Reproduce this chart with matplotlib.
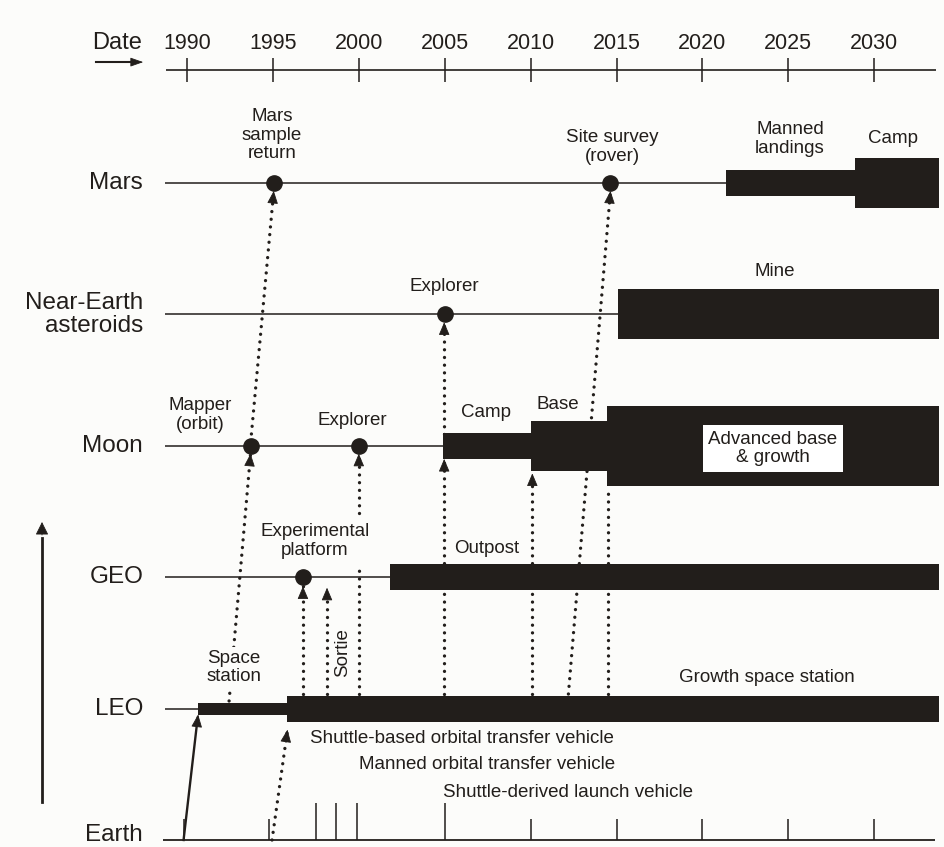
import matplotlib
matplotlib.use('Agg')
import matplotlib.pyplot as plt
import numpy as np

plt.rcParams['font.family'] = ['Liberation Sans', 'DejaVu Sans']

ink = '#221e1b'
paper = '#fcfcfa'

# timeline axis
years = [1990, 1995, 2000, 2005, 2010, 2015, 2020, 2025, 2030]
rows = ['Earth', 'LEO', 'GEO', 'Moon', 'Near-Earth\nasteroids', 'Mars']

# program phases drawn as bars (row index, start year, end year, size class)
phase_labels = ['Manned\nlandings', 'Camp', 'Mine', 'Camp', 'Base',
                'Advanced base\n& growth', 'Outpost', 'Space\nstation',
                'Growth space station']
phase_row = [5, 5, 4, 3, 3, 3, 2, 1, 1]
phase_start = [2021.4, 2028.9, 2015.1, 2004.9, 2010.0, 2014.45, 2001.8, 1990.65, 1995.8]
phase_end = [2028.9, 2033.8, 2033.8, 2010.0, 2014.45, 2033.8, 2033.8, 1995.8, 2033.8]
phase_size = [1, 2, 2, 1, 2, 3, 1, 0, 1]

# single missions drawn as dots
mission_labels = ['Mars\nsample\nreturn', 'Site survey\n(rover)', 'Explorer',
                  'Mapper\n(orbit)', 'Explorer', 'Experimental\nplatform']
mission_row = [5, 5, 4, 3, 3, 2]
mission_year = [1995.05, 2014.65, 2005.0, 1993.7, 2000.0, 1996.75]

# dotted links between rows (from year/row to year/row, arrow head or not)
link_x0 = [1992.45, 1993.75, 2000.0, 2000.0, 1996.75, 1998.15, 2004.97, 2004.97, 2010.1, 2012.2, 2014.5, 1994.95]
link_r0 = [1.058, 3.09, 1.111, 2.49, 1.111, 1.111, 1.111, 3.09, 1.111, 1.111, 1.111, 0.0]
link_x1 = [1993.7, 1995.05, 2000.0, 2000.0, 1996.75, 1998.15, 2004.97, 2004.97, 2010.1, 2014.65, 2014.5, 1995.85]
link_r1 = [2.94, 4.94, 2.07, 2.94, 1.93, 1.92, 2.90, 3.94, 2.79, 4.94, 2.69, 0.84]
link_head = [True, True, False, True, True, True, True, True, True, True, False, True]

# launch events on the Earth line
earth_tick_year = [1989.8, 1994.8, 1997.5, 1998.7, 1999.9, 2005.0, 2010.0, 2015.0, 2020.0, 2025.0, 2030.0]
earth_tick_tall = [False, False, True, True, True, True, False, False, False, False, False]

vehicles = ['Shuttle-based orbital transfer vehicle',
            'Manned orbital transfer vehicle',
            'Shuttle-derived launch vehicle']
vehicle_year = [1997.15, 2000.0, 2004.9]
vehicle_row = [0.776, 0.571, 0.365]

px_per_year = 17.18
px_per_row = 131.4

fig = plt.figure(figsize=(9.45, 8.47), dpi=100, facecolor=paper)
ax = fig.add_axes([0, 0, 1, 1])
ax.set_xlim(1990 - 187 / px_per_year, 1990 + 758 / px_per_year)
ax.set_ylim(-7 / px_per_row, 840 / px_per_row)
ax.axis('off')


def head(x0, y0, x1, y1, size=10, width=0.34):
    p0 = ax.transData.transform((x0, y0))
    p1 = ax.transData.transform((x1, y1))
    d = (p1 - p0) / np.hypot(*(p1 - p0))
    back = ax.transData.inverted().transform(p1 - d * size)
    ax.annotate('', xy=(x1, y1), xytext=back, zorder=4,
                arrowprops=dict(arrowstyle=f'-|>,head_length=0.8,head_width={width}',
                                mutation_scale=10, color=ink, lw=0.6,
                                shrinkA=0, shrinkB=0))


# date scale
date_row = 5.86
ax.hlines(date_row, 1988.75, 2033.6, color=ink, lw=1.2)
ax.vlines(years, date_row - 0.09, date_row + 0.09, color=ink, lw=1.1)
for y in years:
    ax.text(y, 6.065, str(y), ha='center', va='center', fontsize=15.5, color=ink)
ax.text(1985.93, 6.065, 'Date', ha='center', va='center', fontsize=17, color=ink)
ax.plot([1984.7, 1987.0], [5.92, 5.92], color=ink, lw=1.5)
head(1984.7, 5.92, 1987.45, 5.92, size=9, width=0.28)

# row lines and labels
for i, name in enumerate(rows):
    r = 0.035 if i == 0 else i
    ax.text(1987.45, r, name, ha='right', va='center', fontsize=17.5,
            color=ink, linespacing=1.1)
    if i > 0:
        ax.hlines(i, 1988.7, 2033.5, color=ink, lw=1.1, zorder=1)
ax.hlines(0, 1988.6, 2033.55, color=ink, lw=1.3)

# bars
thick_px = [12, 26, 50, 80]
heights = [thick_px[s] / px_per_row for s in phase_size]
ax.barh(phase_row, np.array(phase_end) - np.array(phase_start), left=phase_start,
        height=heights, color=ink, edgecolor='none', zorder=3)

# dotted links
for x0, r0, x1, r1, h in zip(link_x0, link_r0, link_x1, link_r1, link_head):
    ax.plot([x0, x1], [r0, r1], color=ink, lw=2.4, linestyle=(0, (0.01, 2.3)),
            dash_capstyle='round', zorder=2)
    if h:
        head(x0, r0, x1, r1)

# direct launch to LEO
ax.plot([1989.8, 1990.62], [0.0, 0.93], color=ink, lw=1.7, zorder=2)
head(1989.8, 0.0, 1990.65, 0.955)

# milestone dots
ax.plot(mission_year, mission_row, 'o', color=ink, ms=11, zorder=5)

# earth ticks
tick_h = [0.28 if t else 0.16 for t in earth_tick_tall]
ax.vlines(earth_tick_year, 0, tick_h, color=ink, lw=1.1)

# vertical arrow at left
ax.plot([1981.56, 1981.56], [0.289, 2.3], color=ink, lw=2.0)
head(1981.56, 0.289, 1981.56, 2.42, size=13, width=0.4)

# text labels
fs = 13.5
label_pos = [(1994.95, 5.365), (2014.74, 5.274), (2004.96, 4.21),
             (1990.76, 3.234), (1999.6, 3.196), (1997.45, 2.275)]
for name, (x, r) in zip(mission_labels, label_pos):
    ax.text(x, r, name, ha='center', va='center', fontsize=fs, color=ink,
            linespacing=1.12, zorder=6)

phase_pos = [(2025.1, 5.335), (2031.1, 5.342), (2024.2, 4.33), (2007.4, 3.25),
             (2011.6, 3.318), (2024.1, 2.98), (2007.46, 2.222), (1992.72, 1.313),
             (2023.76, 1.24)]
for name, (x, r) in zip(phase_labels, phase_pos):
    kw = {}
    if name.startswith('Space'):
        kw['bbox'] = dict(boxstyle='square,pad=0.15', fc=paper, ec='none')
    if name.startswith('Advanced'):
        kw['bbox'] = dict(boxstyle='square,pad=0.3', fc='white', ec='none')
    ax.text(x, r, name, ha='center', va='center', fontsize=fs, color=ink,
            linespacing=1.12, zorder=6, **kw)

ax.text(1999.08, 1.423, 'Sortie', rotation=90, ha='center', va='center',
        fontsize=fs, color=ink, zorder=6)

for name, x, r in zip(vehicles, vehicle_year, vehicle_row):
    ax.text(x, r, name, ha='left', va='center', fontsize=13.5, color=ink)

fig.savefig('out.png', dpi=100, facecolor=paper)
